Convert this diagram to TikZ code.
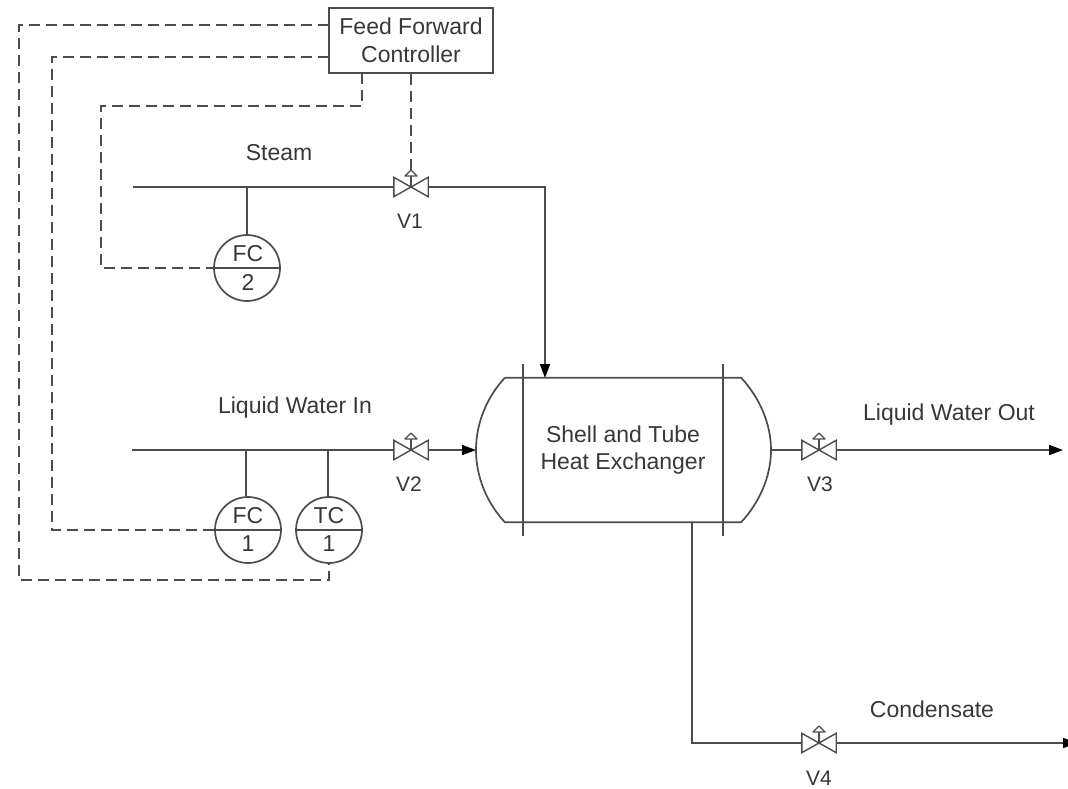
\documentclass[tikz,border=0pt]{standalone}
\usepackage{fontspec}
\setmainfont{Liberation Sans}
\usetikzlibrary{arrows.meta,calc}
\definecolor{ink}{gray}{0.3}
\definecolor{txt}{gray}{0.22}
\tikzset{
  pipe/.style={draw=ink,line width=1.7pt},
  flow/.style={pipe,-{Triangle[length=14pt,width=10pt,fill=black,color=black]}},
  signal/.style={draw=ink,line width=1.6pt,dash pattern=on 11pt off 6pt},
  label/.style={draw=none,text=txt,font=\fontsize{23}{27}\selectfont,inner sep=0pt,align=center},
  tag/.style={label,font=\fontsize{21}{25}\selectfont},
  instr/.style={circle,draw=ink,line width=1.7pt,minimum size=66pt,inner sep=0pt},
  valvebox/.style={draw=none,minimum width=34pt,minimum height=19pt,inner sep=0pt},
  ctrl/.style={rectangle,draw=ink,line width=1.7pt,fill=white,minimum width=164pt,minimum height=65pt,inner sep=0pt,align=center,text=txt,font=\fontsize{23}{28}\selectfont},
  shell/.style={draw=none,minimum width=236pt,minimum height=144pt,inner sep=0pt,align=center,text=txt,font=\fontsize{23}{27}\selectfont}
}
\newcommand{\valvesym}[1]{%
  \draw[pipe,line width=1.4pt] (#1.north west) -- (#1.south west) -- (#1.north east) -- (#1.south east) -- cycle;
  \draw[pipe,line width=1.4pt] (#1.center) -- ++(0,-11);
  \draw[pipe,line width=1.3pt,fill=white,line join=round] ($(#1.center)+(-6,-11)$) -- ($(#1.center)+(6,-11)$) -- ($(#1.center)+(0,-17)$) -- cycle;
}
\begin{document}
\begin{tikzpicture}[x=1pt,y=-1pt]
\useasboundingbox[draw=none,fill=white] (0,0) rectangle (1068,788);

% controller
\node[ctrl] (ffc) at (411,40.5) {Feed Forward\\Controller};

% valves
\node[valvebox] (v1) at (411,187) {};
\node[valvebox] (v2) at (411,450) {};
\node[valvebox] (v3) at (819,450) {};
\node[valvebox] (v4) at (819,743) {};
\valvesym{v1}\valvesym{v2}\valvesym{v3}\valvesym{v4}

% instruments
\node[instr] (fc2) at (247,268) {};
\node[instr] (fc1) at (248,530) {};
\node[instr] (tc1) at (329,530) {};
\draw[pipe] (fc2.west) -- (fc2.east);
\draw[pipe] (fc1.west) -- (fc1.east);
\draw[pipe] (tc1.west) -- (tc1.east);
\node[label] (fc2a) at (248,254) {FC};
\node[label] (fc2b) at (248,282) {2};
\node[label] (fc1a) at (248,516) {FC};
\node[label] (fc1b) at (248,544) {1};
\node[label] (tc1a) at (329,516) {TC};
\node[label] (tc1b) at (329,544) {1};

% heat exchanger
\node[shell] (hx) at (623,450) {Shell and Tube\\Heat Exchanger};
\coordinate (hxl) at (476,450);
\coordinate (hxr) at (771,450);
\coordinate (hxin) at (545,378);
\coordinate (hxd) at (692,522);
\draw[pipe] (hx.north west) -- (hx.north east)
  .. controls (759,397) and (771,423) .. (hxr)
  .. controls (771,477) and (759,503) .. (hx.south east)
  -- (hx.south west)
  .. controls (487,503) and (476,477) .. (hxl)
  .. controls (476,423) and (487,397) .. (hx.north west);
\coordinate (t1a) at (523,364); \coordinate (t1b) at (523,536);
\coordinate (t2a) at (723,364); \coordinate (t2b) at (723,536);
\draw[pipe] (t1a) -- (t1b);
\draw[pipe] (t2a) -- (t2b);

% free ends
\coordinate (steamin) at (133,187);
\coordinate (waterin) at (132,450);
\coordinate (waterout) at (1063,450);
\coordinate (condout) at (1077,743);
\coordinate (js) at (247,187);
\coordinate (jf) at (246,450);
\coordinate (jt) at (328,450);

% process lines
\draw[pipe] (steamin) -- (v1.west);
\draw[flow] (v1.east) -| (hxin);
\draw[pipe] (js) -- (fc2.north);
\draw[pipe] (waterin) -- (v2.west);
\draw[flow] (v2.east) -- (hxl);
\draw[pipe] (jf) -- (jf |- fc1.north);
\draw[pipe] (jt) -- (jt |- tc1.north);
\draw[pipe] (hxr) -- (v3.west);
\draw[flow] (v3.east) -- (waterout);
\draw[pipe] (hxd) |- (v4.west);
\draw[flow] (v4.east) -- (condout);

% signals
\coordinate (s1a) at (329,25);
\coordinate (s1b) at (19,25);
\coordinate (s1c) at (19,580);
\coordinate (s1d) at (329,580);
\draw[signal] (s1a) -- (s1b) -- (s1c) -- (s1d) -- (tc1.south);
\coordinate (s2a) at (329,57);
\coordinate (s2b) at (52,57);
\coordinate (s2c) at (52,530);
\draw[signal] (s2a) -- (s2b) -- (s2c) -- (fc1.west);
\coordinate (s3a) at (362,73);
\coordinate (s3b) at (362,106);
\coordinate (s3c) at (101,106);
\coordinate (s3d) at (101,268);
\draw[signal] (s3a) -- (s3b) -- (s3c) -- (s3d) -- (fc2.west);
\draw[signal] (ffc.south) -- ($(v1.center)+(0,-17)$);

% labels
\node[label] (lsteam) at (279,153) {Steam};
\node[label] (lwin) at (295,408) {Liquid Water In};
\node[label] (lwout) at (949,415) {Liquid Water Out};
\node[label] (lcond) at (932,709) {Condensate};
\node[tag] (lv1) at (410,221) {V1};
\node[tag] (lv2) at (409,484) {V2};
\node[tag] (lv3) at (820,484) {V3};
\node[tag] (lv4) at (819,778) {V4};
\end{tikzpicture}
\end{document}
